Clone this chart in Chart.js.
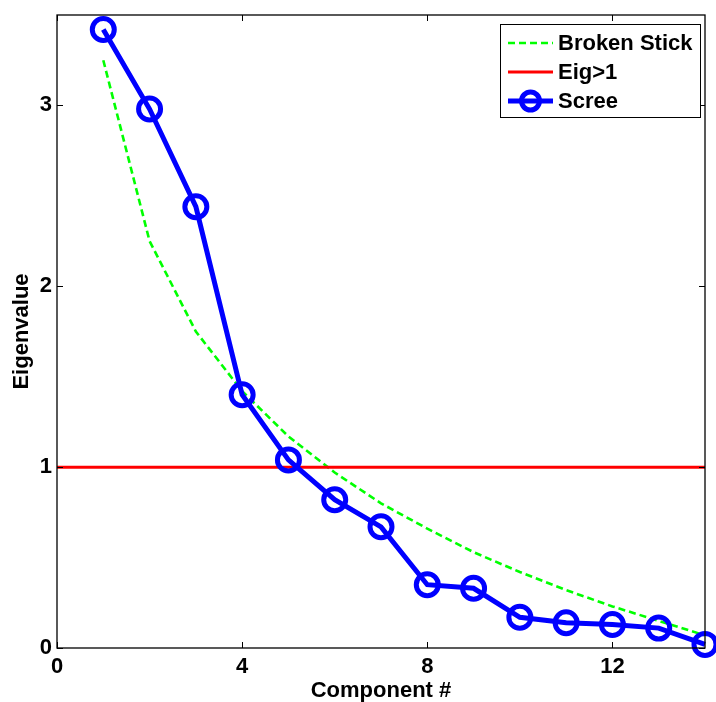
<!DOCTYPE html>
<html>
<head>
<meta charset="utf-8">
<script src="https://cdn.jsdelivr.net/npm/chart.js@4"></script>
<style>
  html, body { margin: 0; padding: 0; background: #fff; }
  #scree { display: block; }
</style>
</head>
<body>
<canvas id="scree" width="716" height="702"></canvas>
<script>
// data
const components = [1, 2, 3, 4, 5, 6, 7, 8, 9, 10, 11, 12, 13, 14]
const screeValues = [3.42, 2.98, 2.44, 1.40, 1.04, 0.82, 0.67, 0.35, 0.33, 0.17, 0.14, 0.13, 0.11, 0.02]
const brokenStick = [3.25, 2.25, 1.75, 1.42, 1.17, 0.97, 0.80, 0.66, 0.53, 0.42, 0.32, 0.23, 0.15, 0.07]
const eigCutoff = 1
const xTicks = [0, 4, 8, 12]
const yTicks = [0, 1, 2, 3]
const xRange = [0, 14]
const yRange = [0, 3.5]

const FONT = 'Liberation Sans, Arial, Helvetica, sans-serif'

// MATLAB style frame with inward ticks
const framePlugin = {
  id: 'frame',
  afterDatasetsDraw (chart) {
    const { ctx, chartArea: a, scales } = chart
    ctx.save()
    ctx.strokeStyle = '#000'
    ctx.lineWidth = 1.3
    ctx.strokeRect(a.left, a.top, a.right - a.left, a.bottom - a.top)
    ctx.lineWidth = 1
    ctx.beginPath()
    xTicks.forEach(function (v) {
      const px = Math.round(scales.x.getPixelForValue(v)) + 0.5
      ctx.moveTo(px, a.bottom); ctx.lineTo(px, a.bottom - 6)
      ctx.moveTo(px, a.top); ctx.lineTo(px, a.top + 6)
    })
    yTicks.forEach(function (v) {
      const py = Math.round(scales.y.getPixelForValue(v)) + 0.5
      ctx.moveTo(a.left, py); ctx.lineTo(a.left + 6, py)
      ctx.moveTo(a.right, py); ctx.lineTo(a.right - 6, py)
    })
    ctx.stroke()
    ctx.restore()
  },
  afterDraw (chart) {
    // legend box, upper right, like the original
    const ctx = chart.ctx
    const a = chart.chartArea
    const boxW = 200
    const boxH = 93
    const bx = a.right - 5 - boxW
    const by = a.top + 9
    ctx.save()
    ctx.fillStyle = '#fff'
    ctx.fillRect(bx, by, boxW, boxH)
    ctx.strokeStyle = '#000'
    ctx.lineWidth = 1
    ctx.strokeRect(bx + 0.5, by + 0.5, boxW, boxH)
    const entries = [0, 1, 2].map(function (i) { return chart.data.datasets[i] })
    entries.forEach(function (ds, i) {
      const y = by + 19 + i * 29
      ctx.save()
      ctx.strokeStyle = ds.borderColor
      ctx.lineWidth = ds.borderWidth
      ctx.setLineDash(ds.borderDash || [])
      ctx.beginPath()
      ctx.moveTo(bx + 8, y)
      ctx.lineTo(bx + 53, y)
      ctx.stroke()
      if (ds.pointRadius) {
        ctx.setLineDash([])
        ctx.lineWidth = ds.pointBorderWidth
        ctx.beginPath()
        ctx.arc(bx + 30.5, y, 9, 0, Math.PI * 2)
        ctx.stroke()
      }
      ctx.restore()
      ctx.fillStyle = '#000'
      ctx.font = 'bold 22px ' + FONT
      ctx.textBaseline = 'middle'
      ctx.fillText(ds.label, bx + 58, y + 1)
    })
    ctx.restore()
  }
}

const ctx = document.getElementById('scree').getContext('2d')
const screeChart = new Chart(ctx, {
  type: 'line',
  data: {
    datasets: [
      {
        label: 'Broken Stick',
        data: components.map(function (c, i) { return { x: c, y: brokenStick[i] } }),
        borderColor: '#00ff00',
        borderWidth: 2.6,
        borderDash: [7, 4],
        pointRadius: 0,
        fill: false,
        order: 3
      },
      {
        label: 'Eig>1',
        data: xRange.map(function (x) { return { x: x, y: eigCutoff } }),
        borderColor: '#ff0000',
        borderWidth: 3,
        pointRadius: 0,
        fill: false,
        order: 2
      },
      {
        label: 'Scree',
        data: components.map(function (c, i) { return { x: c, y: screeValues[i] } }),
        borderColor: '#0000ff',
        borderWidth: 5,
        pointRadius: 11,
        pointBorderWidth: 5,
        pointBorderColor: '#0000ff',
        pointBackgroundColor: 'rgba(0,0,0,0)',
        fill: false,
        clip: false,
        order: 1
      }
    ]
  },
  options: {
    responsive: false,
    animation: false,
    layout: { autoPadding: false, padding: { left: 0, right: 11, top: 15, bottom: 0 } },
    plugins: {
      legend: { display: false },
      tooltip: { enabled: false }
    },
    scales: {
      x: {
        type: 'linear',
        min: xRange[0],
        max: xRange[1],
        grid: { display: false, drawTicks: false },
        border: { display: false },
        afterBuildTicks: function (scale) {
          scale.ticks = xTicks.map(function (v) { return { value: v } })
        },
        afterFit: function (scale) {
          scale.height = 54
          scale.paddingLeft = 0
          scale.paddingRight = 0
        },
        ticks: {
          color: '#000',
          padding: 6,
          maxRotation: 0,
          font: { family: FONT, size: 22, weight: 'bold' }
        },
        title: {
          display: true,
          text: 'Component #',
          color: '#000',
          padding: { top: 0, bottom: 0 },
          font: { family: FONT, size: 22, weight: 'bold', lineHeight: 1 }
        }
      },
      y: {
        type: 'linear',
        min: yRange[0],
        max: yRange[1],
        grid: { display: false, drawTicks: false },
        border: { display: false },
        afterBuildTicks: function (scale) {
          scale.ticks = yTicks.map(function (v) { return { value: v } })
        },
        afterFit: function (scale) {
          scale.width = 57
          scale.paddingTop = 0
          scale.paddingBottom = 0
        },
        ticks: {
          color: '#000',
          padding: 5,
          font: { family: FONT, size: 22, weight: 'bold' }
        },
        title: {
          display: true,
          text: 'Eigenvalue',
          color: '#000',
          padding: { top: 11, bottom: 0 },
          font: { family: FONT, size: 22, weight: 'bold', lineHeight: 1 }
        }
      }
    }
  },
  plugins: [framePlugin]
})
</script>
</body>
</html>
